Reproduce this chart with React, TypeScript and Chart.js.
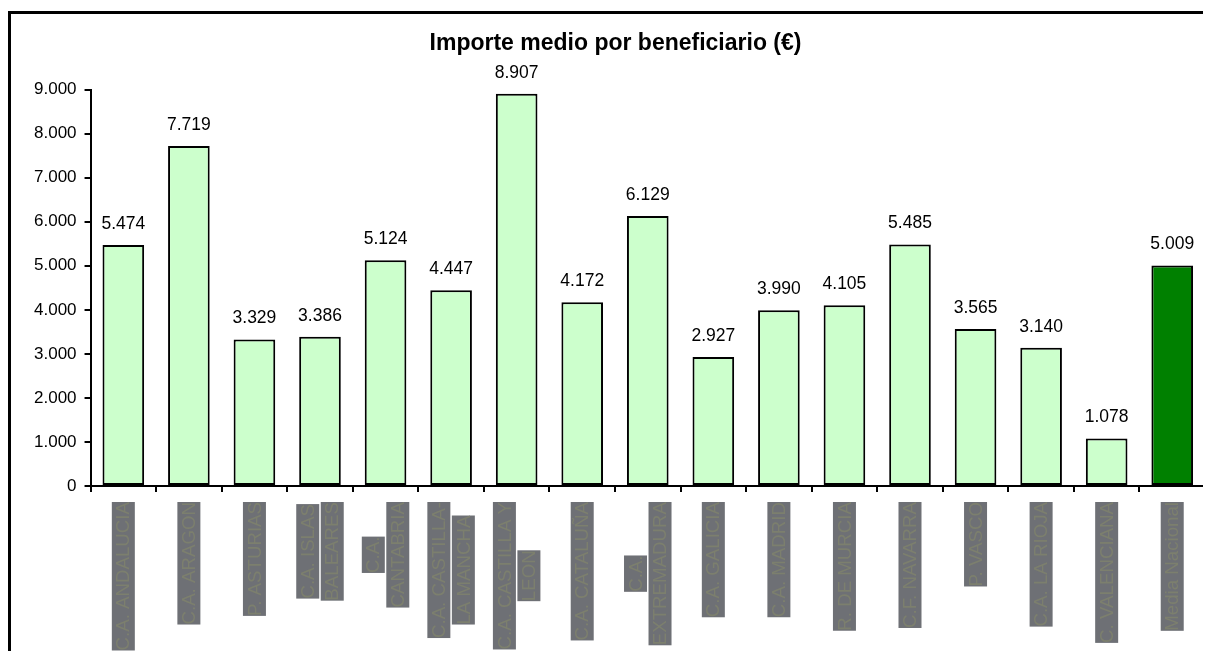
import React, { useEffect, useRef } from "react";
import { Chart, registerables } from "chart.js";

Chart.register(...registerables);

const categories: string[][] = [
  ["C.A. ANDALUCIA"],
  ["C.A. ARAGON"],
  ["P. ASTURIAS"],
  ["C.A. ISLAS", "BALEARES"],
  ["C.A.", "CANTABRIA"],
  ["C.A. CASTILLA-", "LA MANCHA"],
  ["C.A. CASTILLA Y", "LEON"],
  ["C.A. CATALUÑA"],
  ["C.A.", "EXTREMADURA"],
  ["C.A. GALICIA"],
  ["C.A. MADRID"],
  ["R. DE MURCIA"],
  ["C.F. NAVARRA"],
  ["P. VASCO"],
  ["C.A. LA RIOJA"],
  ["C. VALENCIANA"],
  ["Media Nacional"],
];

const values: number[] = [
  5474, 7719, 3329, 3386, 5124, 4447, 8907, 4172, 6129, 2927, 3990, 4105, 5485,
  3565, 3140, 1078, 5009,
];

const yTicks: number[] = [0, 1000, 2000, 3000, 4000, 5000, 6000, 7000, 8000, 9000];

const TITLE = "Importe medio por beneficiario (€)";
const FONT = '"Liberation Sans", Arial, sans-serif';
const LIGHT = "#ccffcc";
const DARK = "#008000";
const BOX = "#6e7075";
const BOX_TEXT = "#7c7f6e";

const fmt = (v: number) => String(Math.round(v)).replace(/\B(?=(\d{3})+(?!\d))/g, ".");

const valueLabels = {
  id: "valueLabels",
  afterDatasetsDraw(chart: any) {
    const { ctx } = chart;
    const meta = chart.getDatasetMeta(0);
    ctx.save();
    ctx.font = `17.5px ${FONT}`;
    ctx.fillStyle = "#000";
    ctx.textAlign = "center";
    ctx.textBaseline = "middle";
    meta.data.forEach((bar: any, i: number) => {
      ctx.fillText(fmt(values[i]), bar.x, bar.y - 21);
    });
    ctx.restore();
  },
};

const rotatedLabels = {
  id: "rotatedLabels",
  afterDraw(chart: any) {
    const { ctx, chartArea } = chart;
    const xs = chart.scales.x;
    ctx.save();
    ctx.font = `18.7px ${FONT}`;
    categories.forEach((lines, i) => {
      const x = xs.getPixelForValue(i);
      const widths = lines.map((l) => ctx.measureText(l).width);
      const maxW = Math.max(...widths);
      const top = chartArea.bottom + 16;
      const n = lines.length;
      lines.forEach((line, j) => {
        const cx = x + (j - (n - 1) / 2) * 24.5;
        const w = widths[j];
        const y0 = top + (maxW - w) / 2;
        ctx.fillStyle = BOX;
        ctx.fillRect(cx - 11.5, y0, 23, w);
        ctx.save();
        ctx.translate(cx, y0 + w);
        ctx.rotate(-Math.PI / 2);
        ctx.fillStyle = BOX_TEXT;
        ctx.textAlign = "left";
        ctx.textBaseline = "middle";
        ctx.fillText(line, 0, 1);
        ctx.restore();
      });
    });
    ctx.restore();
  },
};

export default function App() {
  const ref = useRef<HTMLCanvasElement | null>(null);

  useEffect(() => {
    document.body.style.overflow = "hidden";
    if (!ref.current) return;
    const chart = new Chart(ref.current, {
      type: "bar",
      data: {
        labels: categories.map((c) => c.join(" ")),
        datasets: [
          {
            data: values,
            backgroundColor: values.map((_, i) => (i === values.length - 1 ? DARK : LIGHT)),
            borderColor: "#000",
            borderWidth: 2,
            borderSkipped: false,
            categoryPercentage: 1,
            barPercentage: 0.635,
          },
        ],
      },
      options: {
        responsive: false,
        animation: false,
        layout: { padding: { left: 15, right: 20, top: 0, bottom: 182 } },
        plugins: {
          legend: { display: false },
          tooltip: { enabled: false },
          title: {
            display: true,
            text: TITLE,
            color: "#000",
            font: { family: FONT, size: 23, weight: "bold" },
            padding: { top: 16, bottom: 32 },
          },
        },
        scales: {
          x: {
            grid: {
              display: true,
              drawOnChartArea: false,
              drawTicks: true,
              tickLength: 6,
              color: "#000",
              lineWidth: 2,
              offset: true,
            },
            border: { display: true, color: "#000", width: 2 },
            ticks: { display: false },
          },
          y: {
            min: 0,
            max: 9000,
            afterBuildTicks: (axis: any) => {
              axis.ticks = yTicks.map((v) => ({ value: v }));
            },
            grid: {
              display: true,
              drawOnChartArea: false,
              drawTicks: true,
              tickLength: 6,
              color: "#000",
              lineWidth: 2,
            },
            border: { display: true, color: "#000", width: 2 },
            ticks: {
              color: "#000",
              font: { family: FONT, size: 17 },
              padding: 8,
              callback: (v: any) => fmt(Number(v)),
            },
          },
        },
      },
      plugins: [valueLabels, rotatedLabels],
    });
    return () => chart.destroy();
  }, []);

  return (
    <div style={{ paddingTop: 3 }}>
      <div
        style={{
          border: "3px solid #000",
          width: 1214,
          height: 660,
          position: "relative",
        }}
      >
        <canvas ref={ref} width={1214} height={660} style={{ display: "block", width: 1214, height: 660 }} />
      </div>
    </div>
  );
}
